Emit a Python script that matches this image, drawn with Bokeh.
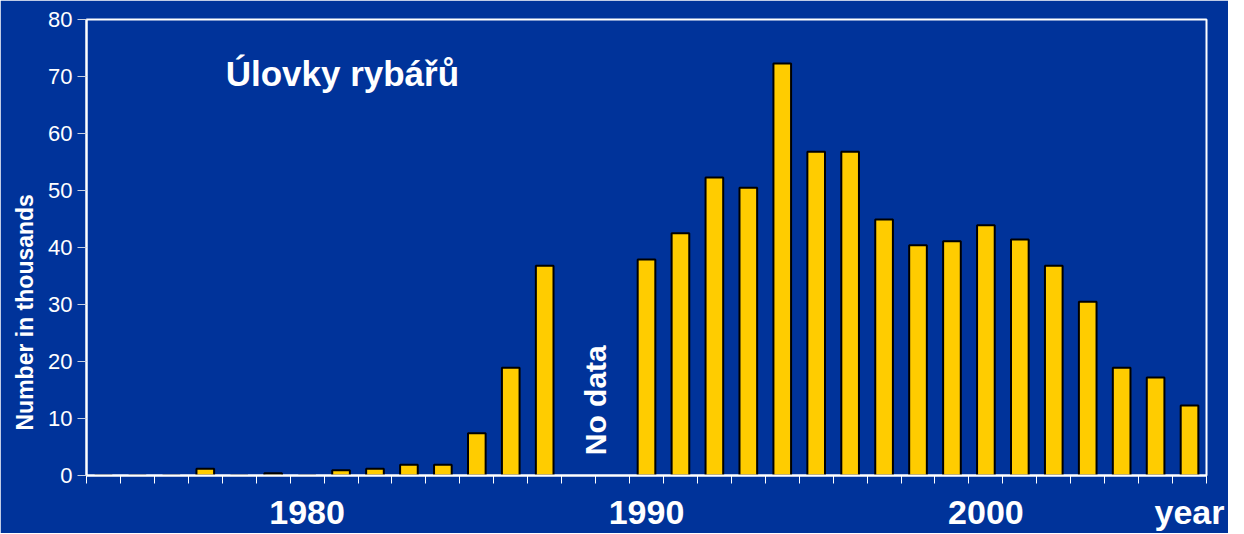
import math
from bokeh.plotting import figure
from bokeh.models import FixedTicker, Label, ColumnDataSource, Range1d, Title
from bokeh.embed import file_html
from bokeh.resources import INLINE

# ---- data ----
years = list(range(1974, 2007))
catch_thousands = [0, 0, 0, 1.2, 0, 0.4, 0, 0.9, 1.2, 1.9, 1.9, 7.4, 18.9, 36.8,
                   None, None,
                   37.9, 42.5, 52.3, 50.5, 72.3, 56.8, 56.8, 44.9, 40.4, 41.1,
                   43.9, 41.4, 36.8, 30.5, 18.9, 17.2, 12.3]
x_labels = [1980, 1990, 2000]
y_ticks = [0, 10, 20, 30, 40, 50, 60, 70, 80]
title_text = "Úlovky rybářů"
y_title = "Number in thousands"
x_title = "year"
gap_text = "No data"
gap_year = 1988.5
x_title_pos = 2006.0

bx = [y for y, v in zip(years, catch_thousands) if v is not None]
bv = [v for v in catch_thousands if v is not None]
src = ColumnDataSource(dict(x=bx, top=bv))

BG = "#00339A"
FONT = "Liberation Sans"

p = figure(frame_width=1120, frame_height=456,
           min_border_left=86, min_border_right=22, min_border_top=19, min_border_bottom=43,
           x_range=Range1d(years[0] - 0.5, years[-1] + 0.5),
           y_range=Range1d(0, 80),
           output_backend="svg", toolbar_location=None)

p.background_fill_color = BG
p.border_fill_color = BG
p.outline_line_color = "white"
p.outline_line_width = 2
p.grid.visible = False

p.vbar(x="x", top="top", width=0.52, source=src,
       fill_color="#FFCC00", line_color="black", line_width=2)

# y axis
ya = p.yaxis[0]
ya.ticker = FixedTicker(ticks=y_ticks)
ya.axis_line_color = "white"
ya.axis_line_width = 2
ya.major_tick_line_color = "#c8d0e0"
ya.major_tick_out = 9
ya.major_tick_in = 0
ya.minor_tick_line_color = None
ya.major_label_text_color = "white"
ya.major_label_text_font = FONT
ya.major_label_text_font_size = "22px"
ya.major_label_standoff = 5

# x axis
xa = p.xaxis[0]
xa.ticker = FixedTicker(ticks=x_labels + [x_title_pos],
                        minor_ticks=[y - 0.5 for y in years] + [years[-1] + 0.5])
xa.major_label_overrides = {x_title_pos: x_title}
xa.axis_line_color = "white"
xa.axis_line_width = 2
xa.major_tick_out = 0
xa.major_tick_in = 0
xa.major_tick_line_color = None
xa.minor_tick_out = 8
xa.minor_tick_in = 0
xa.minor_tick_line_color = "white"
xa.minor_tick_line_width = 1
xa.major_label_text_color = "white"
xa.major_label_text_font = FONT
xa.major_label_text_font_style = "bold"
xa.major_label_text_font_size = "34px"
xa.major_label_standoff = 9

# y-axis title on the left side
p.add_layout(Title(text=y_title, align="left", offset=45, text_color="white",
                   text_font=FONT, text_font_style="bold", text_font_size="23px",
                   standoff=16), "left")

p.add_layout(Label(x=1977.6, y=70.5, text=title_text, text_color="white",
                   text_font=FONT, text_font_style="bold", text_font_size="35px",
                   text_baseline="middle", text_align="left"))

p.add_layout(Label(x=gap_year, y=13.2, text=gap_text, text_color="white",
                   angle=math.pi / 2, text_font=FONT, text_font_style="bold",
                   text_font_size="30px", text_baseline="middle", text_align="center"))

open("out.html", "w").write(file_html(p, INLINE))
